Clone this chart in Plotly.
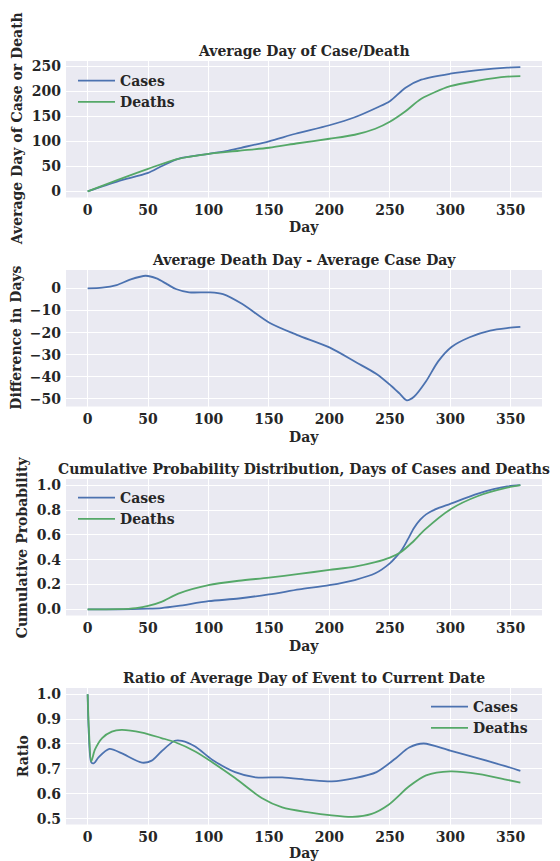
import plotly.graph_objects as go

# ---------------- data ----------------
avg_case_days = [0, 25, 50, 61, 75, 100, 116, 127, 150, 172, 200, 221, 240, 250, 263, 276, 300, 323, 347, 358]
avg_case_vals = [0, 20, 36.7, 50, 65, 75, 81, 87, 100, 115, 132, 148, 168, 180, 207, 223, 235, 242, 247, 248]
avg_death_days = [0, 25, 50, 75, 100, 125, 150, 174, 200, 221, 238, 250, 263, 276, 300, 323, 347, 358]
avg_death_vals = [0, 23, 45, 65, 75, 81, 87, 96, 105, 113, 125, 139, 160, 185, 210, 221, 229, 230]

diff_days = [0, 12, 24, 35, 48, 57, 66, 73, 84, 101, 112, 128, 150, 173, 200, 222, 239, 251, 258, 264, 270, 280, 290, 301, 316, 333, 348, 358]
diff_vals = [0, 0.3, 1.5, 3.9, 5.7, 4.5, 1.8, -0.3, -1.8, -1.8, -2.6, -7.1, -15.4, -21, -26.7, -33.4, -38.7, -44, -47.5, -50.6, -49, -42, -33, -26.5, -22.1, -19.1, -17.9, -17.4]

cdf_case_days = [0, 25, 50, 61, 75, 100, 125, 150, 175, 200, 221, 238, 250, 255, 260, 265, 270, 275, 280, 290, 300, 323, 347, 358]
cdf_case_vals = [0, 0, 0.005, 0.01, 0.027, 0.065, 0.087, 0.12, 0.16, 0.195, 0.236, 0.29, 0.37, 0.42, 0.48, 0.565, 0.655, 0.72, 0.765, 0.815, 0.85, 0.932, 0.99, 1.0]
cdf_death_days = [0, 25, 40, 50, 61, 75, 100, 125, 150, 175, 200, 221, 238, 250, 259, 268, 279, 300, 323, 347, 358]
cdf_death_vals = [0, 0.001, 0.01, 0.027, 0.06, 0.127, 0.195, 0.23, 0.255, 0.285, 0.317, 0.344, 0.38, 0.417, 0.46, 0.534, 0.642, 0.805, 0.913, 0.98, 1.0]

ratio_case_days = [0, 1, 3, 5, 9, 18, 28, 45, 53, 61, 72, 78, 89, 103, 122, 139, 161, 183, 202, 221, 239, 255, 266, 278, 300, 324, 347, 358]
ratio_case_vals = [1.0, 0.837, 0.727, 0.722, 0.746, 0.78, 0.763, 0.725, 0.733, 0.77, 0.813, 0.813, 0.79, 0.737, 0.687, 0.666, 0.666, 0.656, 0.65, 0.663, 0.687, 0.743, 0.786, 0.802, 0.773, 0.741, 0.709, 0.692]
ratio_death_days = [0, 1, 3, 6, 12, 20, 28, 45, 61, 72, 89, 103, 122, 144, 161, 183, 202, 219, 235, 249, 266, 280, 300, 324, 347, 358]
ratio_death_vals = [1.0, 0.864, 0.73, 0.777, 0.824, 0.85, 0.857, 0.846, 0.824, 0.808, 0.77, 0.727, 0.663, 0.583, 0.545, 0.525, 0.513, 0.507, 0.519, 0.556, 0.63, 0.674, 0.69, 0.679, 0.656, 0.645]

titles = ["Average Day of Case/Death",
          "Average Death Day - Average Case Day",
          "Cumulative Probability Distribution, Days of Cases and Deaths",
          "Ratio of Average Day of Event to Current Date"]
ytitles = ["Average Day of Case or Death", "Difference in Days",
           "Cumulative Probability", "Ratio"]
xtitle = "Day"
x_ticks = [0, 50, 100, 150, 200, 250, 300, 350]
y_ticks = [[0, 50, 100, 150, 200, 250],
           [0, -10, -20, -30, -40, -50],
           [0.0, 0.2, 0.4, 0.6, 0.8, 1.0],
           [0.5, 0.6, 0.7, 0.8, 0.9, 1.0]]

# ---------------- styling / layout ----------------
W, H = 560, 861
FONT = "DejaVu Serif"
TXT = "#262626"
BLUE = "#4C72B0"
GREEN = "#55A868"
BG = "#EAEAF2"
LW = 1.8

x_left, x_right = 66, 542
tops = [61, 270, 479, 688]
ph = 136.5
y_ranges = [[-12.4, 260.4], [-53.4, 8.3], [-0.05, 1.05], [0.4765, 1.025]]
y_fmt = ["d", "d", ".1f", ".1f"]
ytitle_x = [17, 16.5, 22, 23]
xtitle_off = [30, 30, 30, 28.5]


def px(x):
    return x / W


def py(y):
    return 1 - y / H


fig = go.Figure()


def add(xs, ys, name, color, idx, legend=None):
    fig.add_trace(go.Scatter(
        x=xs, y=ys, mode="lines", name=name,
        line=dict(color=color, width=LW, shape="spline", smoothing=0.8),
        xaxis="x" if idx == 1 else f"x{idx}",
        yaxis="y" if idx == 1 else f"y{idx}",
        showlegend=legend is not None,
        legend=legend if legend else "legend",
    ))


add(avg_case_days, avg_case_vals, "Cases", BLUE, 1, "legend")
add(avg_death_days, avg_death_vals, "Deaths", GREEN, 1, "legend")
add(diff_days, diff_vals, "Difference", BLUE, 2)
add(cdf_case_days, cdf_case_vals, "Cases", BLUE, 3, "legend2")
add(cdf_death_days, cdf_death_vals, "Deaths", GREEN, 3, "legend2")
add(ratio_case_days, ratio_case_vals, "Cases", BLUE, 4, "legend3")
add(ratio_death_days, ratio_death_vals, "Deaths", GREEN, 4, "legend3")

tickfont = dict(family=FONT, size=14, color=TXT, weight="bold")
layout = dict(
    width=W, height=H,
    margin=dict(l=0, r=0, t=0, b=0, pad=0),
    paper_bgcolor="white",
    plot_bgcolor=BG,
    font=dict(family=FONT, size=14, color=TXT, weight="bold"),
    annotations=[],
)

for i in range(4):
    top = tops[i]
    bottom = top + ph
    sfx = "" if i == 0 else str(i + 1)
    layout["xaxis" + sfx] = dict(
        domain=[px(x_left), px(x_right)], range=[-17.9, 375.9],
        anchor="y" + sfx, tickvals=x_ticks, ticks="", showline=False,
        showgrid=True, gridcolor="white", gridwidth=1, zeroline=False,
        tickfont=tickfont, automargin=False, ticklabelstandoff=2,
    )
    layout["yaxis" + sfx] = dict(
        domain=[py(bottom), py(top)], range=y_ranges[i],
        anchor="x" + sfx, tickvals=y_ticks[i], tickformat=y_fmt[i],
        ticks="", showline=False, showgrid=True, gridcolor="white",
        gridwidth=1, zeroline=False, tickfont=tickfont, automargin=False,
        ticklabelstandoff=4,
    )
    cx = (x_left + x_right) / 2
    layout["annotations"] += [
        dict(text=titles[i], x=px(cx), y=py(top - 10), xref="paper", yref="paper",
             xanchor="center", yanchor="middle", showarrow=False,
             font=dict(family=FONT, size=14, color=TXT, weight="bold")),
        dict(text=xtitle, x=px(cx), y=py(bottom + xtitle_off[i]), xref="paper", yref="paper",
             xanchor="center", yanchor="middle", showarrow=False,
             font=dict(family=FONT, size=14, color=TXT, weight="bold")),
        dict(text=ytitles[i], x=px(ytitle_x[i]), y=py(top + ph / 2), xref="paper",
             yref="paper", xanchor="center", yanchor="middle", showarrow=False,
             textangle=-90,
             font=dict(family=FONT, size=14, color=TXT, weight="bold")),
    ]

leg_common = dict(xanchor="left", yanchor="top", bgcolor="rgba(0,0,0,0)",
                  borderwidth=0, font=dict(family=FONT, size=14, color=TXT, weight="bold"),
                  tracegroupgap=0, itemwidth=37)
layout["legend"] = dict(x=px(73), y=py(65), **leg_common)
layout["legend2"] = dict(x=px(73), y=py(482), **leg_common)
layout["legend3"] = dict(x=px(426), y=py(691), **leg_common)

fig.update_layout(**layout)
fig.write_html("out.html")
